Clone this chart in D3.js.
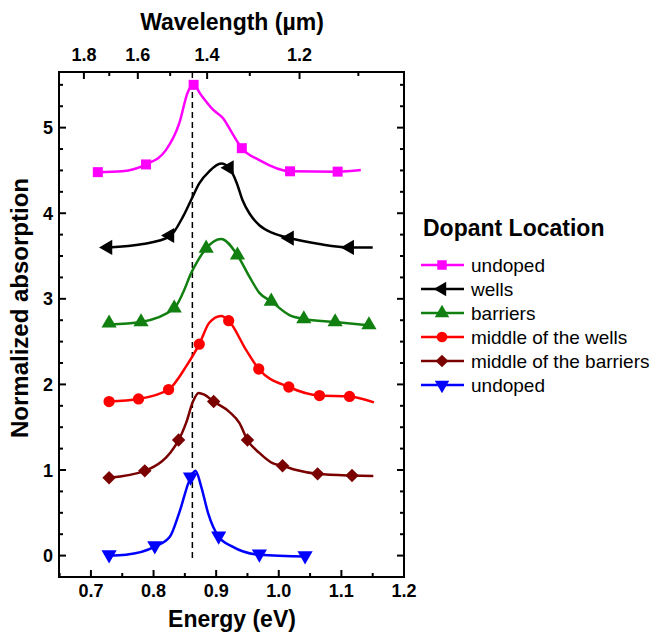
<!DOCTYPE html>
<html>
<head>
<meta charset="utf-8">
<script src="https://cdn.jsdelivr.net/npm/d3@7"></script>
<style>
  body { margin: 0; background: #fff; }
  text { font-family: "Liberation Sans", Arial, sans-serif; }
</style>
</head>
<body>
<svg id="chart" width="654" height="632"></svg>
<script>
// curves: [energy eV, normalized absorption]
const undopedTop = [[0.711,4.48],[0.75,4.49],[0.788,4.57],[0.82,4.74],[0.841,5.05],[0.855,5.42],[0.864,5.50],
  [0.876,5.38],[0.895,5.21],[0.911,5.11],[0.926,4.93],[0.941,4.76],[0.969,4.62],[1.018,4.49],[1.094,4.486],[1.131,4.506]];
const wells = [[0.727,3.60],[0.783,3.64],[0.826,3.73],[0.847,3.96],[0.860,4.155],[0.873,4.35],[0.889,4.49],[0.908,4.58],
  [0.921,4.53],[0.933,4.35],[0.942,4.155],[0.953,4.0],[0.969,3.86],[0.990,3.77],[1.017,3.71],[1.065,3.64],[1.113,3.60],[1.150,3.60]];
const barriers = [[0.729,2.70],[0.780,2.73],[0.833,2.89],[0.847,3.07],[0.860,3.30],[0.871,3.45],[0.884,3.59],[0.908,3.70],
  [0.934,3.51],[0.953,3.26],[0.969,3.07],[0.988,2.97],[1.017,2.81],[1.040,2.765],[1.090,2.73],[1.146,2.69]];
const midWells = [[0.729,1.80],[0.776,1.83],[0.824,1.94],[0.852,2.21],[0.873,2.47],[0.889,2.72],[0.908,2.80],
  [0.920,2.745],[0.948,2.40],[0.968,2.18],[1.016,1.97],[1.065,1.87],[1.113,1.86],[1.152,1.79]];
const midBarriers = [[0.729,0.91],[0.786,0.99],[0.840,1.35],[0.852,1.55],[0.863,1.80],[0.872,1.90],[0.881,1.88],[0.896,1.80],
  [0.921,1.68],[0.937,1.55],[0.950,1.35],[0.969,1.20],[0.990,1.08],[1.006,1.05],[1.028,1.00],[1.062,0.955],[1.117,0.935],[1.151,0.93]];
const undopedBottom = [[0.729,0.0],[0.756,0.01],[0.802,0.105],[0.826,0.22],[0.841,0.50],[0.859,0.91],[0.867,0.99],
  [0.876,0.81],[0.887,0.50],[0.904,0.22],[0.926,0.105],[0.969,0.01],[1.045,-0.01]];

// symbol positions
const undopedTopMarks = [[0.711,4.48],[0.788,4.57],[0.864,5.50],[0.941,4.76],[1.018,4.49],[1.094,4.486]];
const wellsMarks = [[0.727,3.60],[0.826,3.74],[0.921,4.53],[1.017,3.71],[1.113,3.60]];
const barriersMarks = [[0.729,2.715],[0.780,2.73],[0.833,2.89],[0.884,3.59],[0.934,3.51],[0.988,2.97],[1.040,2.765],[1.090,2.73],[1.144,2.695]];
const midWellsMarks = [[0.729,1.80],[0.776,1.83],[0.824,1.94],[0.873,2.47],[0.920,2.745],[0.968,2.18],[1.016,1.97],[1.065,1.87],[1.113,1.86]];
const midBarriersMarks = [[0.729,0.91],[0.786,0.99],[0.840,1.35],[0.896,1.80],[0.950,1.35],[1.006,1.05],[1.062,0.955],[1.117,0.935]];
const undopedBottomMarks = [[0.729,0.01],[0.802,0.115],[0.859,0.92],[0.904,0.23],[0.969,0.02],[1.042,0.0]];

const seriesNames = ['undoped', 'wells', 'barriers', 'middle of the wells', 'middle of the barriers', 'undoped'];
const seriesColors = ['#ff00ff', '#000000', '#118011', '#ff0000', '#7a0000', '#0000ff'];
const seriesSymbols = ['square', 'left', 'up', 'circle', 'diamond', 'down'];
const seriesCurves = [undopedTop, wells, barriers, midWells, midBarriers, undopedBottom];
const seriesMarks = [undopedTopMarks, wellsMarks, barriersMarks, midWellsMarks, midBarriersMarks, undopedBottomMarks];

const xTicks = [0.7, 0.8, 0.9, 1.0, 1.1, 1.2];
const yTicks = [0, 1, 2, 3, 4, 5];
const wlTicks = [1.8, 1.6, 1.4, 1.2];
const wlMinor = [1.7, 1.5, 1.3, 1.1];
const dashedE = 0.862;

const svg = d3.select('#chart');
const pLeft = 59, pRight = 404, pTop = 72, pBottom = 577;

const x = d3.scaleLinear().domain([0.649, 1.2]).range([pLeft, pRight]);
const y = d3.scaleLinear().domain([-0.25, 5.65]).range([pBottom, pTop]);
const hc = 1.2398; // eV·µm

const g = svg.append('g');

// frame
g.append('rect')
  .attr('x', pLeft).attr('y', pTop)
  .attr('width', pRight - pLeft).attr('height', pBottom - pTop)
  .attr('fill', 'none').attr('stroke', '#000').attr('stroke-width', 2);

// bottom ticks (inward)
const xMinor = d3.range(0.65, 1.2001, 0.05).map(v => +v.toFixed(2)).filter(v => !xTicks.some(t => Math.abs(t - v) < 1e-6));
xTicks.forEach(v => g.append('line').attr('x1', x(v)).attr('x2', x(v)).attr('y1', pBottom).attr('y2', pBottom - 7)
  .attr('stroke', '#000').attr('stroke-width', 2));
xMinor.forEach(v => g.append('line').attr('x1', x(v)).attr('x2', x(v)).attr('y1', pBottom).attr('y2', pBottom - 4)
  .attr('stroke', '#000').attr('stroke-width', 2));
g.selectAll('.xl').data(xTicks).join('text')
  .attr('x', d => x(d)).attr('y', 597)
  .attr('text-anchor', 'middle').attr('font-size', 18).attr('font-weight', 'bold')
  .text(d => d.toFixed(1));

// left & right ticks
const yMinor = d3.range(-0.25, 5.651, 0.25).map(v => +v.toFixed(2)).filter(v => !yTicks.includes(v) && v > -0.25 && v < 5.65);
[pLeft, pRight].forEach(ex => {
  const dir = ex === pLeft ? 1 : -1;
  yTicks.forEach(v => g.append('line').attr('x1', ex).attr('x2', ex + 7 * dir).attr('y1', y(v)).attr('y2', y(v))
    .attr('stroke', '#000').attr('stroke-width', 2));
  yMinor.forEach(v => g.append('line').attr('x1', ex).attr('x2', ex + 4 * dir).attr('y1', y(v)).attr('y2', y(v))
    .attr('stroke', '#000').attr('stroke-width', 2));
});
g.selectAll('.yl').data(yTicks).join('text')
  .attr('x', 53).attr('y', d => y(d) + 6.5)
  .attr('text-anchor', 'end').attr('font-size', 18).attr('font-weight', 'bold')
  .text(d => d);

// top wavelength axis
wlTicks.forEach(v => g.append('line').attr('x1', x(hc / v)).attr('x2', x(hc / v)).attr('y1', pTop).attr('y2', pTop + 7)
  .attr('stroke', '#000').attr('stroke-width', 2));
wlMinor.forEach(v => g.append('line').attr('x1', x(hc / v)).attr('x2', x(hc / v)).attr('y1', pTop).attr('y2', pTop + 4)
  .attr('stroke', '#000').attr('stroke-width', 2));
g.selectAll('.wl').data(wlTicks).join('text')
  .attr('x', d => x(hc / d)).attr('y', 61)
  .attr('text-anchor', 'middle').attr('font-size', 18).attr('font-weight', 'bold')
  .text(d => d.toFixed(1));

// axis titles
g.append('text').attr('x', 232).attr('y', 30).attr('text-anchor', 'middle')
  .attr('font-size', 23).attr('font-weight', 'bold').text('Wavelength (µm)');
g.append('text').attr('x', 232).attr('y', 627).attr('text-anchor', 'middle')
  .attr('font-size', 23).attr('font-weight', 'bold').text('Energy (eV)');
g.append('text').attr('transform', 'translate(28,308) rotate(-90)').attr('text-anchor', 'middle')
  .attr('font-size', 24).attr('font-weight', 'bold').text('Normalized absorption');

// dashed reference line
g.append('line').attr('x1', x(dashedE)).attr('x2', x(dashedE)).attr('y1', pTop).attr('y2', y(-0.03))
  .attr('stroke', '#000').attr('stroke-width', 1.5).attr('stroke-dasharray', '6,4');

function symbolPath(kind, size) {
  switch (kind) {
    case 'square': return { d: d3.symbol(d3.symbolSquare, size)(), rot: 0 };
    case 'circle': return { d: d3.symbol(d3.symbolCircle, size)(), rot: 0 };
    case 'diamond': return { d: d3.symbol(d3.symbolSquare, size * 0.9)(), rot: 45 };
    case 'up': return { d: d3.symbol(d3.symbolTriangle, size)(), rot: 0 };
    case 'down': return { d: d3.symbol(d3.symbolTriangle, size)(), rot: 180 };
    case 'left': return { d: d3.symbol(d3.symbolTriangle, size)(), rot: -90 };
  }
}

const line = d3.line().x(d => x(d[0])).y(d => y(d[1])).curve(d3.curveMonotoneX);

seriesCurves.forEach((curve, i) => {
  const col = seriesColors[i];
  g.append('path').datum(curve).attr('d', line)
    .attr('fill', 'none').attr('stroke', col).attr('stroke-width', 2.5).attr('stroke-linejoin', 'round');
  const s = symbolPath(seriesSymbols[i], 100);
  g.selectAll(null).data(seriesMarks[i]).join('path')
    .attr('d', s.d)
    .attr('transform', d => `translate(${x(d[0])},${y(d[1])}) rotate(${s.rot})`)
    .attr('fill', col);
});

// legend
const lg = svg.append('g');
lg.append('text').attr('x', 423).attr('y', 236).attr('font-size', 23).attr('font-weight', 'bold').text('Dopant Location');
seriesNames.forEach((name, i) => {
  const ly = 265 + i * 24;
  const col = seriesColors[i];
  lg.append('line').attr('x1', 421).attr('x2', 464).attr('y1', ly).attr('y2', ly)
    .attr('stroke', col).attr('stroke-width', 2.5);
  const s = symbolPath(seriesSymbols[i], 90);
  lg.append('path').attr('d', s.d).attr('transform', `translate(442,${ly}) rotate(${s.rot})`).attr('fill', col);
  lg.append('text').attr('x', 471).attr('y', ly + 7).attr('font-size', 19).text(name);
});
</script>
</body>
</html>
